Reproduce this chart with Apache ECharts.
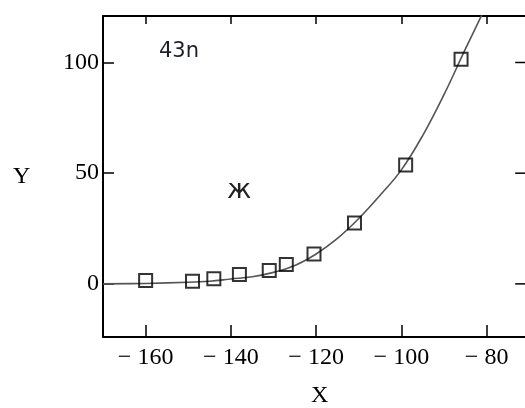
<!DOCTYPE html>
<html>
<head>
<meta charset="utf-8">
<script src="https://cdn.jsdelivr.net/npm/echarts@6/dist/echarts.min.js"></script>
<style>
  html, body { margin: 0; padding: 0; background: #fff; overflow: hidden; }
  #chart { width: 525px; height: 408px; }
</style>
</head>
<body>
<div id="chart"></div>
<script>
// Measured points (X, Y)
const pointX = [-160, -149, -144, -138, -131, -127, -120.5, -111, -99, -86];
const pointY = [1.5, 1.2, 2.3, 4.2, 6.0, 8.7, 13.5, 27.5, 53.7, 101.5];

// Fitted curve, sampled along X
const curveX = [-170, -160, -150, -145, -140, -135, -130, -125, -120, -115, -110, -105, -100, -95, -90, -85, -80];
const curveY = [0, 0.2, 0.7, 1.2, 2.2, 3.2, 5.2, 8.3, 13.5, 20.5, 29.5, 40, 51.5, 67, 85.5, 106, 126];

// Axis ticks
const xTicks = [-160, -140, -120, -100, -80];
const yTicks = [0, 50, 100];

// The frame is cut by the right edge of the canvas, so the visible X range ends near -71
const X_MIN = -170, X_MAX = -71;
const Y_MIN = -24, Y_MAX = 121;
const RIGHT_TICK_SPAN = 2.3; // length of the right-side ticks, in X units

const serif = '"Liberation Serif", "Times New Roman", serif';
const sans = '"DejaVu Sans", Verdana, sans-serif';

const chart = echarts.init(document.getElementById('chart'), null, { renderer: 'canvas' });

const frameLine = { show: true, onZero: false, lineStyle: { color: '#000', width: 2 } };

// short inward ticks along the right side of the frame
const rightTicks = yTicks.map(y => ({
  type: 'line',
  data: [[X_MAX - RIGHT_TICK_SPAN, y], [X_MAX, y]],
  showSymbol: false,
  silent: true,
  clip: false,
  lineStyle: { color: '#000', width: 1.5 },
  z: 4
}));

chart.setOption({
  animation: false,
  backgroundColor: '#fff',
  grid: { left: 103, right: 0, top: 16, bottom: 71, containLabel: false },
  xAxis: [
    {
      type: 'value', position: 'bottom', min: X_MIN, max: X_MAX,
      axisLine: frameLine,
      axisTick: { show: true, inside: true, length: 12, customValues: xTicks, lineStyle: { color: '#000', width: 1.5 } },
      axisLabel: {
        show: true, customValues: xTicks, margin: 9,
        fontFamily: serif, fontSize: 24, color: '#000',
        formatter: v => '\u2212 ' + Math.abs(v)
      },
      splitLine: { show: false }
    },
    {
      type: 'value', position: 'top', min: X_MIN, max: X_MAX,
      axisLine: frameLine,
      axisTick: { show: true, inside: true, length: 8, customValues: xTicks, lineStyle: { color: '#000', width: 1.5 } },
      axisLabel: { show: false },
      splitLine: { show: false }
    }
  ],
  yAxis: [
    {
      type: 'value', position: 'left', min: Y_MIN, max: Y_MAX,
      axisLine: frameLine,
      axisTick: { show: true, inside: true, length: 11, customValues: yTicks, lineStyle: { color: '#000', width: 1.5 } },
      axisLabel: {
        show: true, customValues: yTicks, margin: 4,
        fontFamily: serif, fontSize: 24, color: '#000'
      },
      splitLine: { show: false }
    }
  ],
  series: [
    {
      type: 'line',
      data: curveX.map((x, i) => [x, curveY[i]]),
      smooth: 0.4,
      showSymbol: false,
      clip: true,
      lineStyle: { color: '#555', width: 1.6 },
      z: 2
    },
    {
      type: 'scatter',
      data: pointX.map((x, i) => [x, pointY[i]]),
      symbol: 'rect',
      symbolSize: 13,
      itemStyle: { color: 'rgba(0,0,0,0)', borderColor: '#000', borderWidth: 2 },
      z: 3
    },
    ...rightTicks
  ],
  graphic: [
    { type: 'text', left: 13, top: 165, style: { text: 'Y', font: '24px ' + serif, fill: '#000' } },
    { type: 'text', left: 311, top: 384, style: { text: 'X', font: '24px ' + serif, fill: '#000' } },
    { type: 'text', left: 159, top: 41, style: { text: '43n', font: '21px ' + sans, fill: '#1e1e2a' } },
    { type: 'text', left: 227, top: 177, style: { text: 'ж', font: '27px ' + sans, fill: '#222' } }
  ]
});
</script>
</body>
</html>
